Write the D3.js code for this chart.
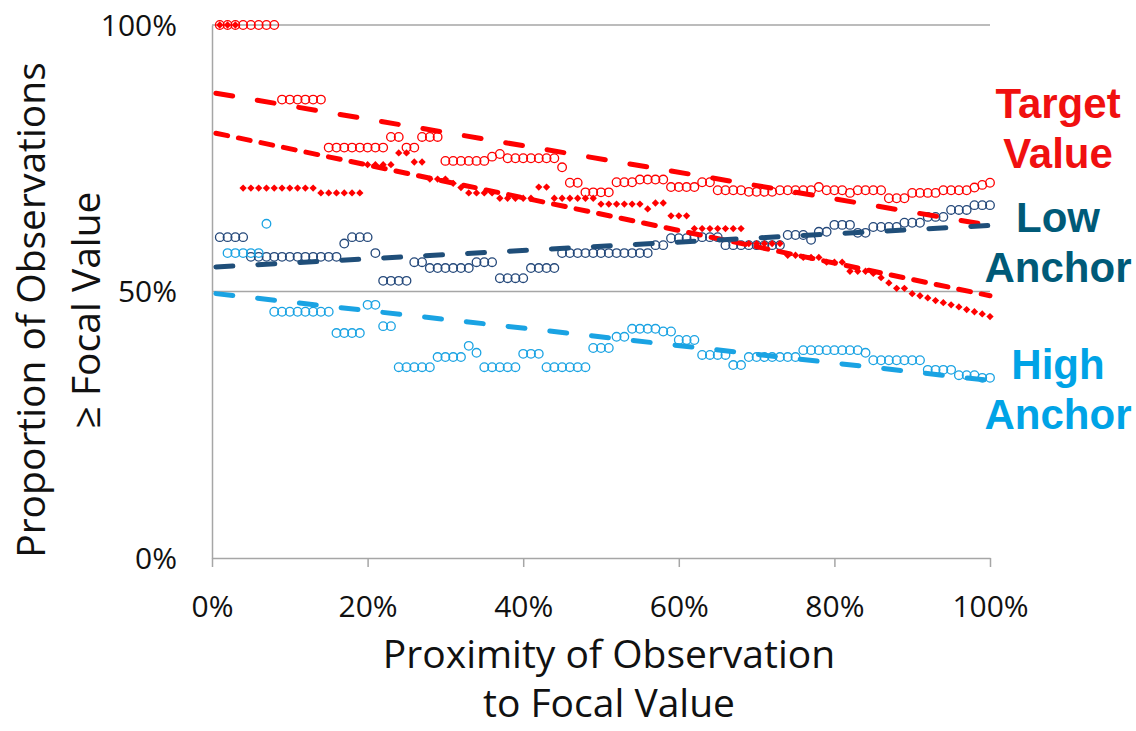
<!DOCTYPE html>
<html>
<head>
<meta charset="utf-8">
<script src="https://cdn.jsdelivr.net/npm/d3@7"></script>
<style>
  body { margin: 0; background: #fff; }
  text { font-family: "Open Sans", sans-serif; }
</style>
</head>
<body>
<div id="chart"></div>
<script>
var width = 1136;
var height = 731;

// x positions of the observations, 1% .. 100%
var proximity = d3.range(1, 101);

// red open circles
var targetCircles = [
  100,100,100,100,100,100,100,100,86,86,
  86,86,86,86,77,77,77,77,77,77,
  77,77,79,79,77,77,79,79,79,74.5,
  74.5,74.5,74.5,74.5,74.5,75.3,75.8,75,75,75,
  75,75,75,75,73.3,70.4,70.4,68.6,68.6,68.6,
  68.6,70.5,70.5,70.5,71,71,71,71,69.6,69.6,
  69.6,69.6,70.5,70.5,69,69,69,69,68.7,68.7,
  68.7,68.7,69,69,69,69,69,69.6,69,69,
  69,68.5,69,69,69,69,67.5,67.5,67.5,68.5,
  68.5,68.5,68.5,69,69,69,69,69.5,70,70.4];

// red small diamonds
var targetDiamonds = [
  100,100,100,69.4,69.4,69.4,69.4,69.4,69.4,69.4,
  69.4,69.4,69.4,68.5,68.5,68.5,68.5,68.5,68.5,73.8,
  73.8,73.8,73.8,76,76,74.3,74.3,71.1,71.1,71.1,
  70.3,69.5,68.5,68.5,68.5,68.5,67.5,67.5,67.5,67.5,
  67.5,69.6,69.6,67.5,67.5,67.5,67.5,67.5,67.5,66.4,
  66.4,66.4,66.4,66.4,66.4,65.5,66.6,66.6,64.2,64.2,
  64.2,61.8,61.8,61.8,61.8,61.8,61.8,61.8,59,59,
  59,59,59,56.8,56.8,56.4,56.4,56.4,55.5,55.5,
  55.5,53.8,53.8,53.8,53.4,52.6,51.6,50.6,50.6,49.6,
  49.2,48.8,48.3,47.9,47.5,47.1,46.6,46.2,45.8,45.3];

// dark blue open circles
var lowAnchor = [
  60.2,60.2,60.2,60.2,56.5,56.5,56.5,56.5,56.5,56.5,
  56.5,56.5,56.5,56.5,56.5,56.5,59,60.2,60.2,60.2,
  57.2,52,52,52,52,55.5,55.5,54.4,54.4,54.4,
  54.4,54.4,54.4,55.5,55.5,55.5,52.5,52.5,52.5,52.5,
  54.4,54.4,54.4,54.4,57.2,57.2,57.2,57.2,57.2,57.2,
  57.2,57.2,57.2,57.2,57.2,57.2,58.7,58.7,60,60,
  60,60,60.2,60.2,60.2,58.7,58.7,58.7,58.7,58.7,
  58.7,58.7,58.7,60.6,60.6,60.6,59.7,61.2,61.2,62.5,
  62.5,62.5,61,61,62.1,62.1,62.1,62.1,62.9,62.9,
  62.9,64,64,64,65.3,65.3,65.3,66.2,66.2,66.2];

// light blue open circles
var highAnchor = [
  null,57.2,57.2,57.2,57.2,57.2,62.7,46.2,46.2,46.2,
  46.2,46.2,46.2,46.2,46.2,42.2,42.2,42.2,42.2,47.5,
  47.5,43.5,43.5,35.8,35.8,35.8,35.8,35.8,37.7,37.7,
  37.7,37.7,39.8,38.5,35.8,35.8,35.8,35.8,35.8,38.3,
  38.3,38.3,35.8,35.8,35.8,35.8,35.8,35.8,39.4,39.4,
  39.4,41.5,41.5,43,43,43,43,42.5,42.5,40.9,
  40.9,40.9,38.1,38.1,38.1,38.1,36.2,36.2,37.7,37.7,
  37.7,37.7,37.7,37.7,37.7,39,39,39,39,39,
  39,39,39,38.5,37.1,37.1,37.1,37.1,37.1,37.1,
  37.1,35.3,35.3,35.3,35.3,34.3,34.3,34.3,33.8,33.8];

// linear trend lines (start, end)
var trendX = [0.5, 100];
var trendTarget = [87.2, 62.4];
var trendDiamonds = [79.7, 49.2];
var trendLow = [54.6, 62.4];
var trendHigh = [49.6, 33.3];

var xTicks = [0, 20, 40, 60, 80, 100];
var yTicks = [0, 50, 100];

var red = "#ff0000";
var navy = "#24487a";
var sky = "#1aa3e3";

var svg = d3.select("#chart")
  .append("svg")
    .attr("width", width)
    .attr("height", height);

var x = d3.scaleLinear().domain([0, 100]).range([212, 990]);
var y = d3.scaleLinear().domain([0, 100]).range([558, 25]);

// gridlines at 50% and 100%
svg.append("g")
  .selectAll("line")
  .data(yTicks.filter(d => d > 0))
  .enter()
  .append("line")
    .attr("x1", x(0))
    .attr("x2", x(100))
    .attr("y1", d => y(d))
    .attr("y2", d => y(d))
    .attr("stroke", "#a6a6a6")
    .attr("stroke-width", 1.5);

// y axis, line only
svg.append("g")
    .attr("transform", "translate(" + x(0) + ",0)")
    .call(d3.axisLeft(y).tickValues(yTicks).tickSize(0).tickFormat(""))
    .call(g => g.select(".domain").attr("stroke", "#a6a6a6").attr("stroke-width", 1.5));

svg.append("g")
  .selectAll("text")
  .data(yTicks)
  .enter()
  .append("text")
    .attr("x", 177)
    .attr("y", d => y(d))
    .attr("dy", "0.36em")
    .attr("text-anchor", "end")
    .style("font-size", "30px")
    .style("fill", "#111")
    .text(d => d + "%");

// x axis
svg.append("g")
    .attr("transform", "translate(0," + y(0) + ")")
    .call(d3.axisBottom(x).tickValues(xTicks).tickSizeInner(9).tickSizeOuter(0).tickFormat(d => d + "%"))
    .call(g => g.select(".domain").attr("stroke", "#a6a6a6").attr("stroke-width", 1.5))
    .call(g => g.selectAll(".tick line").attr("stroke", "#a6a6a6").attr("stroke-width", 1.5))
    .call(g => g.selectAll(".tick text")
      .attr("y", 38)
      .style("font-family", "'Open Sans', sans-serif")
      .style("font-size", "30px")
      .style("fill", "#111"));

// axis titles
var xTitle = svg.append("text")
    .attr("text-anchor", "middle")
    .style("font-size", "39px")
    .style("fill", "#111");
xTitle.append("tspan").attr("x", 609).attr("y", 668).text("Proximity of Observation");
xTitle.append("tspan").attr("x", 609).attr("y", 717).text("to Focal Value");

var yTitle = svg.append("text")
    .attr("transform", "translate(0,310) rotate(-90)")
    .attr("text-anchor", "middle")
    .style("font-size", "39px")
    .style("fill", "#111");
yTitle.append("tspan").attr("x", 0).attr("y", 45).text("Proportion of Observations");
yTitle.append("tspan").attr("x", 0).attr("y", 100).text("≥ Focal Value");

// scatter series
function circles(values, color){
  svg.append("g")
    .selectAll("circle")
    .data(values.map((v, i) => ({x: proximity[i], y: v})).filter(d => d.y != null))
    .enter()
    .append("circle")
      .attr("cx", d => x(d.x))
      .attr("cy", d => y(d.y))
      .attr("r", 4.3)
      .attr("fill", "none")
      .attr("stroke", color)
      .attr("stroke-width", 1.3);
}

circles(targetCircles, red);
circles(lowAnchor, navy);
circles(highAnchor, sky);

svg.append("g")
  .selectAll("path")
  .data(targetDiamonds.map((v, i) => ({x: proximity[i], y: v})))
  .enter()
  .append("path")
    .attr("d", d3.symbol().type(d3.symbolDiamond2).size(34))
    .attr("transform", d => "translate(" + x(d.x) + "," + y(d.y) + ")")
    .attr("fill", red);

// dashed trend lines
var trends = [
  {vals: trendTarget, color: red, dash: "17,25"},
  {vals: trendDiamonds, color: red, dash: "12,11"},
  {vals: trendLow, color: "#1f4e79", dash: "17,25"},
  {vals: trendHigh, color: "#1aa3e3", dash: "17,25"}];

svg.append("g")
  .selectAll("line")
  .data(trends)
  .enter()
  .append("line")
    .attr("x1", x(trendX[0]))
    .attr("x2", x(trendX[1]))
    .attr("y1", d => y(d.vals[0]))
    .attr("y2", d => y(d.vals[1]))
    .attr("stroke", d => d.color)
    .attr("stroke-width", 5)
    .attr("stroke-linecap", "round")
    .attr("stroke-dasharray", d => d.dash);

// series labels on the right
var labels = [
  {lines: ["Target", "Value"], y: [118, 168], color: "#f01010"},
  {lines: ["Low", "Anchor"], y: [232, 282], color: "#005a78"},
  {lines: ["High", "Anchor"], y: [379, 429], color: "#00a3e6"}];

labels.forEach(function(l){
  var t = svg.append("text")
      .attr("text-anchor", "middle")
      .style("font-family", "'Liberation Sans', Arial, sans-serif")
      .style("font-weight", "bold")
      .style("font-size", "42px")
      .style("fill", l.color);
  l.lines.forEach(function(s, i){
    t.append("tspan").attr("x", 1058).attr("y", l.y[i]).text(s);
  });
});
</script>
</body>
</html>
